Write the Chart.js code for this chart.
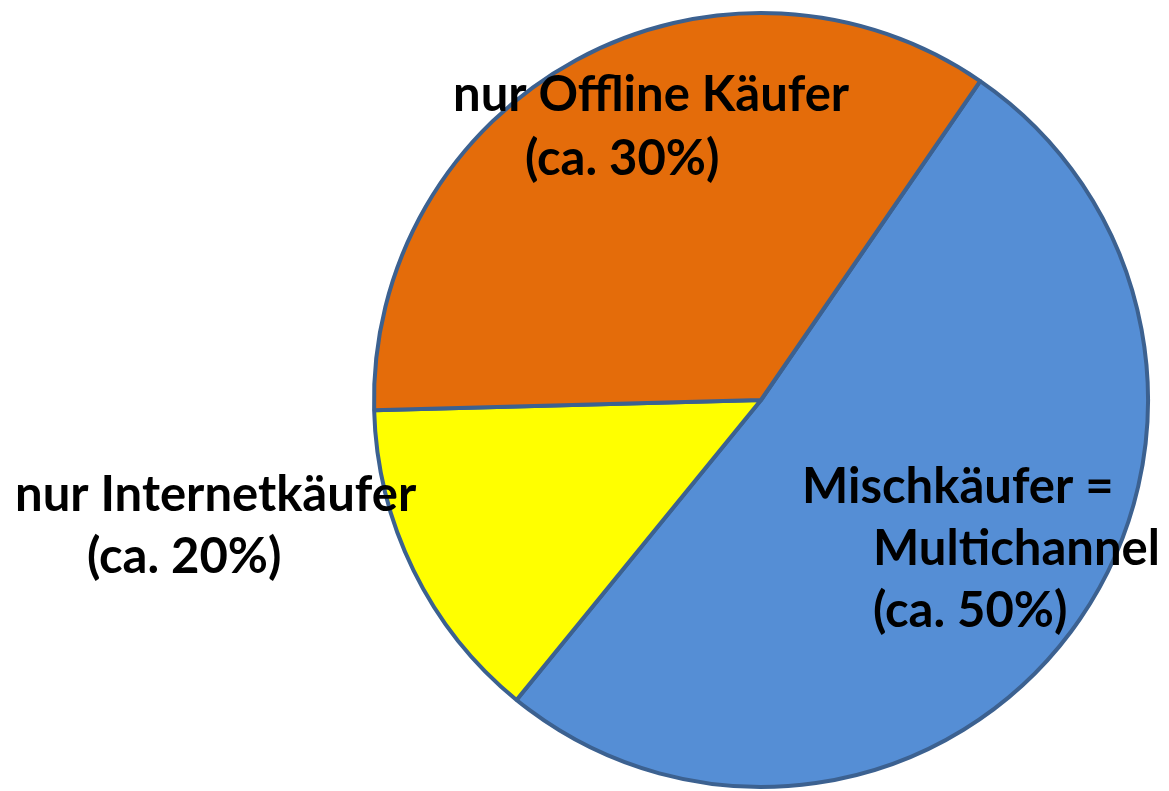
<!DOCTYPE html>
<html>
<head>
<meta charset="utf-8">
<script src="https://cdn.jsdelivr.net/npm/chart.js@4.4.0/dist/chart.umd.min.js"></script>
<style>
  html, body { margin: 0; padding: 0; background: #ffffff; }
  #wrap { width: 1169px; height: 791px; position: relative; }
</style>
</head>
<body>
<div id="wrap"><canvas id="c"></canvas></div>
<script>
// Data (slice angles)
const categories = ['Mischkäufer = Multichannel', 'nur Internetkäufer', 'nur Offline Käufer'];
const shares = [51.3, 13.7, 35.0];
const sliceColors = ['#558ED5', '#FFFF00', '#E46C0A'];

// Label text, line by line
const labelLines = [
  ['Mischkäufer =', 'Multichannel', '(ca. 50%)'],
  ['nur Internetkäufer', '(ca. 20%)'],
  ['nur Offline Käufer', '(ca. 30%)']
];

// label placement (x of each line's left edge, y of first line center, line step)
const labelLayout = [
  { xs: [802, 873, 873], y: 487, step: 62 },
  { xs: [15, 87], y: 495, step: 62 },
  { xs: [453, 525], y: 95, step: 64 }
];

const labelPlugin = {
  id: 'sliceLabels',
  afterDatasetsDraw(chart) {
    const ctx = chart.ctx;
    ctx.save();
    ctx.fillStyle = '#000000';
    ctx.font = 'bold 49px Lato, "Open Sans", sans-serif';
    ctx.textBaseline = 'middle';
    ctx.textAlign = 'left';
    labelLines.forEach((lines, i) => {
      const L = labelLayout[i];
      lines.forEach((t, j) => {
        ctx.fillText(t, L.xs[j], L.y + j * L.step);
      });
    });
    ctx.restore();
  }
};

new Chart(document.getElementById('c'), {
  type: 'pie',
  data: {
    labels: categories,
    datasets: [{
      data: shares,
      backgroundColor: sliceColors,
      borderColor: '#3C6190',
      borderWidth: 4
    }]
  },
  options: {
    responsive: true,
    maintainAspectRatio: false,
    animation: false,
    rotation: 34.5,
    layout: { padding: { left: 372, right: 19, top: 11, bottom: 2 } },
    plugins: {
      legend: { display: false },
      tooltip: { enabled: false },
      title: { display: false }
    }
  },
  plugins: [labelPlugin]
});
</script>
</body>
</html>
